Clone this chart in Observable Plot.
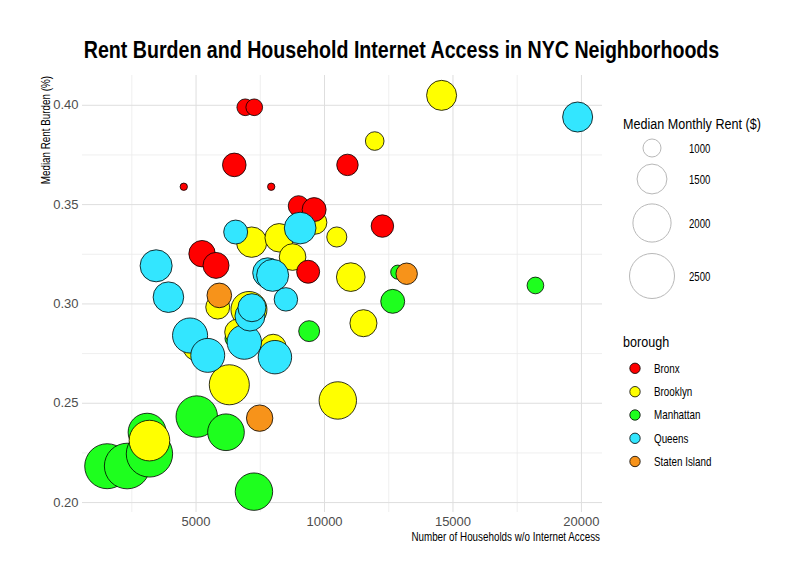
<!DOCTYPE html>
<html><head><meta charset="utf-8">
<script src="https://cdn.jsdelivr.net/npm/d3@7"></script>
<script src="https://cdn.jsdelivr.net/npm/@observablehq/plot@0.6"></script>
<style>
body{margin:0;background:#fff;}
#wrap{position:relative;width:809px;height:584px;font-family:"Liberation Sans",Arial,sans-serif;}
#title{position:absolute;left:0;top:38px;width:803px;text-align:center;font-size:24px;font-weight:bold;line-height:24px;color:#000;white-space:nowrap;transform:scaleX(0.817);transform-origin:401.5px 0;}
#chart{position:absolute;left:0;top:60px;}
#legend{position:absolute;left:0;top:0;}
</style></head><body>
<div id="wrap">
<div id="title">Rent Burden and Household Internet Access in NYC Neighborhoods</div>
<div id="chart"></div>
<svg id="legend" width="809" height="584"></svg>
</div>
<script>
// ---- data (draw order matters for overlaps) ----
const borough = [
 "Manhattan","Manhattan","Manhattan","Manhattan","Manhattan","Manhattan","Manhattan","Manhattan","Manhattan","Manhattan","Manhattan","Manhattan",
 "Brooklyn","Brooklyn","Brooklyn","Brooklyn","Brooklyn","Brooklyn","Brooklyn","Brooklyn","Brooklyn","Brooklyn","Brooklyn","Brooklyn","Brooklyn","Brooklyn","Brooklyn","Brooklyn","Brooklyn",
 "Bronx","Bronx","Bronx","Bronx","Bronx","Bronx","Bronx","Bronx","Bronx","Bronx","Bronx","Bronx",
 "Queens","Queens","Queens","Queens","Queens","Queens","Queens","Queens","Queens","Queens","Queens","Queens","Queens","Queens",
 "Staten Island","Staten Island","Staten Island"
];
const households = [
 1542,2319,3096,3186,5027,6165,7253,9402,12654,18209,12850,6437,
 3186,14557,11954,9635,7164,8236,8757,10478,11022,11515,10517,6294,5843,7059,6620,8003,5000,
 6915,7265,6488,4522,7925,8990,9596,9363,5233,5777,10893,12253,
 19852,9052,6542,3446,7785,7980,3924,8497,4767,5455,6877,8070,7098,7175,
 5905,7475,13197
];
const burden = [
 0.2183,0.2184,0.2354,0.2245,0.2433,0.2354,0.2055,0.2863,0.3013,0.3093,0.3160,0.2826,
 0.2312,0.4050,0.3820,0.3410,0.3311,0.3333,0.3236,0.3337,0.3135,0.2903,0.2514,0.2593,0.2984,0.2972,0.2858,0.2782,0.2781,
 0.3990,0.3990,0.3700,0.3590,0.3590,0.3493,0.3475,0.3162,0.3253,0.3194,0.3700,0.3392,
 0.3941,0.3382,0.3362,0.3192,0.3157,0.3144,0.3034,0.3023,0.2841,0.2741,0.2808,0.2732,0.2939,0.2981,
 0.3043,0.2425,0.3152
];
const rent = [
 2500,2550,1990,2610,2230,1900,1950,1100,1220,960,890,940,
 2170,1510,1020,1200,1530,1430,1340,1070,1440,1360,1950,2130,1220,1860,1310,1310,1310,
 960,960,1205,762,762,1090,1220,1180,1330,1310,1120,1160,
 1510,1600,1220,1620,1500,1620,1540,1200,1800,1730,1760,1700,1508,1406,
 1250,1330,1120
];
const boroughs = ["Bronx","Brooklyn","Manhattan","Queens","Staten Island"];
const colors = ["#ff0000","#ffff00","#1eff1e","#33e6ff","#f7931a"];
const xTicks = [5000,10000,15000,20000];
const xMinor = [2500,7500,12500,17500];
const yTicks = [0.20,0.25,0.30,0.35,0.40];
const yMinor = [0.225,0.275,0.325,0.375];
const sizeBreaks = [1000,1500,2000,2500];
const rentZero = 714;

const data = borough.map((b,i)=>({borough:b, households:households[i], burden:burden[i], rent:rent[i]}));
const fontFam = '"Liberation Sans",Arial,sans-serif';

const chart = Plot.plot({
  width: 615, height: 500,
  marginLeft: 82, marginRight: 13, marginTop: 15, marginBottom: 48,
  style: {fontFamily: fontFam, fontSize: "13px", color: "#4d4d4d", background: "transparent", overflow: "visible"},
  x: {domain: [580, 20820], ticks: xTicks, tickFormat: d3.format("d"), tickSize: 0, tickPadding: 4, label: null},
  y: {domain: [0.195, 0.415], ticks: yTicks, tickFormat: ".2f", tickSize: 0, tickPadding: 4, label: null},
  r: {type: "sqrt", domain: [0, 1786], range: [0, 22.5]},
  color: {domain: boroughs, range: colors},
  marks: [
    Plot.ruleX(xMinor, {stroke: "#ebebeb", strokeWidth: 0.8}),
    Plot.ruleY(yMinor, {stroke: "#ebebeb", strokeWidth: 0.8}),
    Plot.ruleX(xTicks, {stroke: "#dedede", strokeWidth: 1}),
    Plot.ruleY(yTicks, {stroke: "#dedede", strokeWidth: 1}),
    Plot.dot(data, {x: "households", y: "burden", r: d => d.rent - rentZero, fill: "borough",
      stroke: "#000", strokeWidth: 0.8, fillOpacity: 1, sort: null})
  ]
});
document.getElementById("chart").appendChild(chart);

// ---- overlay texts & legends ----
const rScale = chart.scale("r");
const cScale = chart.scale("color");
const svg = d3.select("#legend").style("font-family", fontFam);
function addText(x, y, str, size, opts = {}) {
  const sx = opts.sx ?? 0.82;
  const rot = opts.rotate ? ` rotate(${opts.rotate})` : "";
  return svg.append("text")
    .attr("transform", `translate(${x},${y})${rot} scale(${sx},1)`)
    .attr("font-size", size).attr("fill", "#000")
    .attr("text-anchor", opts.anchor || "start")
    .attr("dy", opts.dy || null)
    .text(str);
}
// axis titles
addText(600, 541, "Number of Households w/o Internet Access", 12, {anchor: "end"});
addText(50, 76, "Median Rent Burden (%)", 12, {anchor: "end", rotate: -90});

// size legend
addText(623, 129, "Median Monthly Rent ($)", 15, {sx: 0.84});
const sizeY = [148, 179, 223, 276];
sizeBreaks.forEach((v, i) => {
  svg.append("circle").attr("cx", 652).attr("cy", sizeY[i]).attr("r", rScale.apply(v - rentZero))
    .attr("fill", "none").attr("stroke", "#b8b8b8").attr("stroke-width", 1);
  addText(689, sizeY[i] + 1, String(v), 12, {dy: "0.35em", sx: 0.8});
});
// color legend
addText(623, 347, "borough", 15, {sx: 0.84});
const swY = [368.3, 391.7, 415, 438.3, 461.5];
boroughs.forEach((b, i) => {
  svg.append("circle").attr("cx", 635).attr("cy", swY[i]).attr("r", 5.2)
    .attr("fill", cScale.apply(b)).attr("stroke", "#000").attr("stroke-width", 0.8);
  addText(654, swY[i], b, 12, {dy: "0.35em", sx: 0.82});
});
</script>
</body></html>
